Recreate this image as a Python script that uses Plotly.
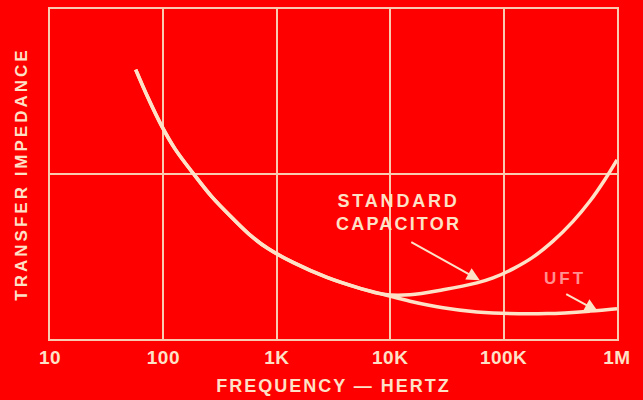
import plotly.graph_objects as go

# Frequencies (Hz) and relative transfer impedance (arbitrary units, 0..2 full scale)
shared_freq = [57, 73, 97, 127, 182, 268, 403, 604, 836, 1390, 2770, 5420, 8650]
shared_imp = [1.633, 1.464, 1.289, 1.151, 1.006, 0.861, 0.735, 0.620, 0.548, 0.464, 0.373, 0.307, 0.271]

std_freq = [14960, 29240, 58200, 80700, 121000, 181600, 272700, 409500, 578000, 783000, 1000000]
std_imp = [0.268, 0.298, 0.340, 0.370, 0.425, 0.496, 0.593, 0.713, 0.836, 0.967, 1.086]

uft_freq = [14960, 29240, 58200, 80700, 241500, 578000, 1000000]
uft_imp = [0.229, 0.189, 0.163, 0.157, 0.154, 0.169, 0.184]

tick_vals = [10, 100, 1000, 10000, 100000, 1000000]
tick_text = ["10", "100", "1K", "10K", "100K", "1M"]

BG = "#ff0000"
CREAM = "#fde2c8"
GRID = "#f9c9b0"
PINK = "#ff9090"
FONT = "Liberation Sans"


def ls(t, s=2.5):
    return f'<span style="letter-spacing:{s}px">{t}</span>'


fig = go.Figure()
fig.add_trace(go.Scatter(x=shared_freq + std_freq, y=shared_imp + std_imp,
                         mode="lines", line=dict(color=CREAM, width=3.5, shape="spline", smoothing=1.0),
                         name="Standard capacitor", hoverinfo="skip"))
fig.add_trace(go.Scatter(x=shared_freq + uft_freq, y=shared_imp + uft_imp,
                         mode="lines", line=dict(color=CREAM, width=3.5, shape="spline", smoothing=1.0),
                         name="UFT", hoverinfo="skip"))

fig.update_layout(
    width=643, height=400,
    margin=dict(l=50, r=26, t=7, b=61),
    paper_bgcolor=BG, plot_bgcolor=BG,
    showlegend=False,
    font=dict(family=FONT, color=CREAM, size=17),
    xaxis=dict(type="log", range=[1, 6], tickvals=tick_vals,
               ticktext=[ls(t, 0.5) for t in tick_text],
               showgrid=True, gridcolor=GRID, gridwidth=2,
               showline=True, linecolor=GRID, linewidth=2, mirror=True,
               zeroline=False, ticks="",
               tickfont=dict(family=FONT, size=19, color=CREAM, weight="bold"),
               title=dict(text=ls("FREQUENCY — HERTZ", 2.0), standoff=13,
                          font=dict(family=FONT, size=18, color=CREAM, weight="bold"))),
    yaxis=dict(range=[0, 2], dtick=1, showticklabels=False,
               showgrid=True, gridcolor=GRID, gridwidth=2,
               showline=True, linecolor=GRID, linewidth=2, mirror=True,
               zeroline=False, ticks="",
               title=dict(text=ls("TRANSFER IMPEDANCE", 3.0), standoff=16,
                          font=dict(family=FONT, size=17, color=CREAM, weight="bold"))),
)

fig.add_annotation(xref="paper", yref="paper", x=0.614, y=0.383, xanchor="center", yanchor="middle",
                   text=ls("STANDARD", 2.8) + "<br>" + ls("CAPACITOR", 2.2),
                   showarrow=False, font=dict(family=FONT, size=18, color=CREAM, weight="bold"))
fig.add_annotation(xref="paper", yref="paper", x=0.758, y=0.178, text="",
                   showarrow=True, ax=-70, ay=-39, arrowhead=2, arrowsize=1.3,
                   arrowwidth=2, arrowcolor=CREAM)
fig.add_annotation(xref="paper", yref="paper", x=0.908, y=0.184, xanchor="center", yanchor="middle",
                   text=ls("UFT", 3.0), showarrow=False,
                   font=dict(family=FONT, size=17, color=PINK, weight="bold"))
fig.add_annotation(xref="paper", yref="paper", x=0.966, y=0.084, text="",
                   showarrow=True, ax=-33, ay=-18, arrowhead=2, arrowsize=1.3,
                   arrowwidth=2, arrowcolor=CREAM)

fig.write_html("out.html", config={"displayModeBar": False},
               post_script="document.body.style.margin='0';document.body.style.overflow='hidden';")
